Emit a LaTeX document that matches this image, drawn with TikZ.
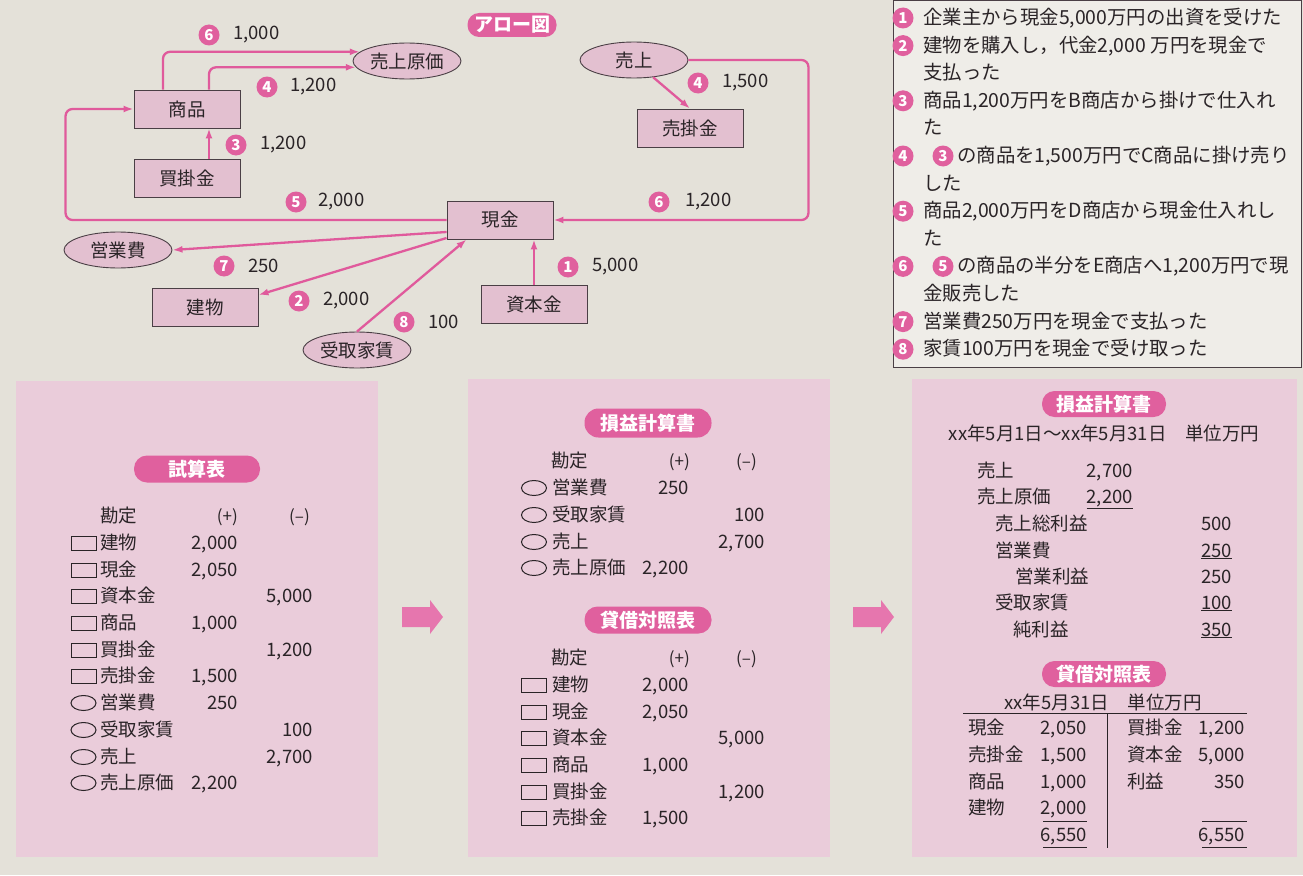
\documentclass[tikz,border=0pt]{standalone}
\usepackage{fontspec}
\setmainfont{Noto Sans CJK JP}
\usetikzlibrary{shapes.geometric,arrows.meta}
\definecolor{bgc}{HTML}{E4E1D9}
\definecolor{panelc}{HTML}{EACCDA}
\definecolor{boxc}{HTML}{E3C0D0}
\definecolor{flowc}{HTML}{E05A9C}
\definecolor{badgec}{HTML}{E0609E}
\definecolor{inkc}{HTML}{2A2427}
\definecolor{edgec}{HTML}{4A3F45}
\definecolor{blockc}{HTML}{E676AE}
\newcommand{\fsz}{\fontsize{18.5}{20}\selectfont}
\newcommand{\tbrow}[6]{%
  \node[#3] (#1s) at (\colS,#2) {};
  \node[txt,anchor=base west] (#1n) at (\colN,#2+6) {#4};
  \node[txt,anchor=base east] (#1p) at (\colP,#2+6) {#5};
  \node[txt,anchor=base east] (#1m) at (\colM,#2+6) {#6};
}
\begin{document}
\begin{tikzpicture}[x=1pt,y=-1pt,
  acct/.style={draw=edgec, fill=boxc, line width=0.9pt, minimum width=106pt, minimum height=38pt, inner sep=0pt, font=\fsz, text=inkc},
  acell/.style={ellipse, draw=edgec, fill=boxc, line width=0.9pt, minimum width=108pt, minimum height=36pt, inner sep=0pt, font=\fsz, text=inkc},
  flow/.style={draw=flowc, line width=2.3pt, -{Latex[length=10pt,width=7pt]}, rounded corners=7pt},
  numb/.style={circle, fill=badgec, text=white, inner sep=0pt, minimum size=21pt, font=\fontsize{15}{15}\selectfont\bfseries},
  val/.style={anchor=west, inner sep=0pt, font=\fsz, text=inkc},
  txt/.style={inner sep=0pt, font=\fsz, text=inkc},
  hdr/.style={inner sep=0pt, anchor=base east, font=\fontsize{17}{18}\selectfont, text=inkc},
  leg/.style={inner sep=0pt, anchor=base west, font=\fontsize{19.4}{20}\selectfont, text=inkc},
  pill/.style={fill=badgec, text=white, inner sep=0pt, font=\fontsize{19}{20}\selectfont\bfseries},
  symr/.style={draw=inkc, line width=1pt, minimum width=25pt, minimum height=14pt, inner sep=0pt},
  syme/.style={ellipse, draw=inkc, line width=1pt, minimum width=25pt, minimum height=15pt, inner sep=0pt},
  block/.style={fill=blockc},
  rule/.style={draw=inkc, line width=0.9pt}
]
\useasboundingbox (0,0) rectangle (1303,875);
\fill[bgc] (0,0) rectangle (1303,875);

% ---------------- arrow diagram ----------------
\node[pill, minimum width=89pt, minimum height=24pt, rounded corners=11.5pt] (arrowtitle) at (512,25) {アロー図};

\node[acct] (shohin) at (187,109) {商品};
\node[acct] (kaikake) at (187,178) {買掛金};
\node[acell] (genka) at (407,61) {売上原価};
\node[acell] (eigyohi) at (118,250) {営業費};
\node[acct] (tatemono) at (205,307) {建物};
\node[acell] (yachin) at (357,350) {受取家賃};
\node[acct] (genkin) at (500,220) {現金};
\node[acct] (shihon) at (534,304) {資本金};
\node[acell] (uriage) at (634,60) {売上};
\node[acct] (urikake) at (690,128) {売掛金};

\draw[flow] ([xshift=-24pt]shohin.north) |- (genka.169);
\draw[flow] ([xshift=22pt]shohin.north) |- (genka.187);
\draw[flow] ([xshift=22pt]kaikake.north) -- ([xshift=22pt]shohin.south);
\draw[flow] (genkin.west) -- ++(-381,0) |- (shohin.west);
\draw[flow] ([yshift=-12pt]genkin.west) -- (eigyohi.east);
\draw[flow] ([yshift=-18pt]genkin.west) -- ([yshift=12pt]tatemono.east);
\draw[flow] (yachin.north) -- ([xshift=20pt]genkin.south west);
\draw[flow] (shihon.north) -- (shihon.north |- genkin.south);
\draw[flow] (uriage.-42) -- (urikake.north);
\draw[flow] (uriage.east) -- ++(120,0) |- (genkin.east);

\node[numb] (b6a) at (209,35) {6};  \node[val] (v6a) at (233,35) {1,000};
\node[numb] (b4a) at (267,87) {4};  \node[val] (v4a) at (290,87) {1,200};
\node[numb] (b3a) at (236,145) {3}; \node[val] (v3a) at (260,145) {1,200};
\node[numb] (b5a) at (296,202) {5}; \node[val] (v5a) at (318,202) {2,000};
\node[numb] (b7a) at (224,266) {7}; \node[val] (v7a) at (248,266) {250};
\node[numb] (b2a) at (299,301) {2}; \node[val] (v2a) at (323,301) {2,000};
\node[numb] (b8a) at (404,322) {8}; \node[val] (v8a) at (428,322) {100};
\node[numb] (b4b) at (698,83) {4};  \node[val] (v4b) at (722,83) {1,500};
\node[numb] (b6b) at (659,202) {6}; \node[val] (v6b) at (685,202) {1,200};
\node[numb] (b1a) at (568,267) {1}; \node[val] (v1a) at (592,267) {5,000};

% ---------------- legend ----------------
\draw[draw=edgec, line width=1pt, fill=bgc!60!white] (893,0.6) rectangle (1301,367);
\node[numb] (l1) at (903,18) {1};      \node[leg] (l1t) at (923,24.5) {企業主から現金5,000万円の出資を受けた};
\node[numb] (l2) at (903,45.6) {2};    \node[leg] (l2t) at (923,52.1) {建物を購入し，代金2,000 万円を現金で};
                                       \node[leg] (l2u) at (923,79.7) {支払った};
\node[numb] (l3) at (903,100.8) {3};   \node[leg] (l3t) at (923,107.3) {商品1,200万円をB商店から掛けで仕入れ};
                                       \node[leg] (l3u) at (923,134.9) {た};
\node[numb] (l4) at (903,156) {4};     \node[numb] (l4r) at (943,156) {3};
                                       \node[leg] (l4t) at (957,162.5) {の商品を1,500万円でC商品に掛け売り};
                                       \node[leg] (l4u) at (923,190.1) {した};
\node[numb] (l5) at (903,211.2) {5};   \node[leg] (l5t) at (923,217.7) {商品2,000万円をD商店から現金仕入れし};
                                       \node[leg] (l5u) at (923,245.3) {た};
\node[numb] (l6) at (903,266.4) {6};   \node[numb] (l6r) at (943,266.4) {5};
                                       \node[leg] (l6t) at (957,272.9) {の商品の半分をE商店へ1,200万円で現};
                                       \node[leg] (l6u) at (923,300.5) {金販売した};
\node[numb] (l7) at (903,321.6) {7};   \node[leg] (l7t) at (923,328.1) {営業費250万円を現金で支払った};
\node[numb] (l8) at (903,349.2) {8};   \node[leg] (l8t) at (923,355.7) {家賃100万円を現金で受け取った};

% ---------------- panels ----------------
\fill[panelc] (16,381) rectangle (378,857);
\fill[panelc] (468,379) rectangle (830,857);
\fill[panelc] (912,379) rectangle (1297,857);

\fill[block] (402,607) -- (430,607) -- (430,600) -- (443,617) -- (430,634) -- (430,627) -- (402,627) -- cycle;
\fill[block] (853,607) -- (881,607) -- (881,600) -- (894,617) -- (881,634) -- (881,627) -- (853,627) -- cycle;

% panel 1: trial balance
\node[pill, minimum width=126pt, minimum height=27pt, rounded corners=13pt] (p1title) at (197,469) {試算表};
\node[txt,anchor=base west] (p1h) at (100,522) {勘定};
\node[hdr] (p1hp) at (238,522) {(+)};
\node[hdr] (p1hm) at (310,522) {(–)};
\def\colS{83.5}\def\colN{100}\def\colP{238}\def\colM{313}
\tbrow{ra}{543}{symr}{建物}{2,000}{}
\tbrow{rb}{570}{symr}{現金}{2,050}{}
\tbrow{rc}{596}{symr}{資本金}{}{5,000}
\tbrow{rd}{623}{symr}{商品}{1,000}{}
\tbrow{re}{650}{symr}{買掛金}{}{1,200}
\tbrow{rf}{676}{symr}{売掛金}{1,500}{}
\tbrow{rg}{703}{syme}{営業費}{250}{}
\tbrow{rh}{730}{syme}{受取家賃}{}{100}
\tbrow{ri}{757}{syme}{売上}{}{2,700}
\tbrow{rj}{783}{syme}{売上原価}{2,200}{}

% panel 2
\node[pill, minimum width=127pt, minimum height=29pt, rounded corners=14pt] (p2title) at (648,423) {損益計算書};
\node[txt,anchor=base west] (p2h) at (551,467) {勘定};
\node[hdr] (p2hp) at (690,467) {(+)};
\node[hdr] (p2hm) at (757,467) {(–)};
\def\colS{534}\def\colN{552}\def\colP{689}\def\colM{765}
\tbrow{sa}{488}{syme}{営業費}{250}{}
\tbrow{sb}{515}{syme}{受取家賃}{}{100}
\tbrow{sc}{542}{syme}{売上}{}{2,700}
\tbrow{sd}{568}{syme}{売上原価}{2,200}{}
\node[pill, minimum width=127pt, minimum height=27pt, rounded corners=13pt] (p2title2) at (648,620) {貸借対照表};
\node[txt,anchor=base west] (p2h2) at (551,664) {勘定};
\node[hdr] (p2hp2) at (690,664) {(+)};
\node[hdr] (p2hm2) at (757,664) {(–)};
\tbrow{ta}{685}{symr}{建物}{2,000}{}
\tbrow{tb}{712}{symr}{現金}{2,050}{}
\tbrow{tc}{738}{symr}{資本金}{}{5,000}
\tbrow{td}{765}{symr}{商品}{1,000}{}
\tbrow{te}{792}{symr}{買掛金}{}{1,200}
\tbrow{tf}{818}{symr}{売掛金}{1,500}{}

% panel 3
\node[pill, minimum width=124pt, minimum height=26pt, rounded corners=12.5pt] (p3title) at (1104,404) {損益計算書};
\node[txt] (p3date) at (1104,433) {xx年5月1日～xx年5月31日\hspace{1em}単位万円};
\node[txt,anchor=base west] (q1n) at (977,477) {売上};     \node[txt,anchor=base east] (q1v) at (1133,477) {2,700};
\node[txt,anchor=base west] (q2n) at (977,503) {売上原価}; \node[txt,anchor=base east] (q2v) at (1133,503) {\underline{2,200}};
\node[txt,anchor=base west] (q3n) at (995,530) {売上総利益}; \node[txt,anchor=base east] (q3v) at (1232,530) {500};
\node[txt,anchor=base west] (q4n) at (995,557) {営業費};   \node[txt,anchor=base east] (q4v) at (1232,557) {\underline{250}};
\node[txt,anchor=base west] (q5n) at (1015,583) {営業利益}; \node[txt,anchor=base east] (q5v) at (1232,583) {250};
\node[txt,anchor=base west] (q6n) at (995,609) {受取家賃}; \node[txt,anchor=base east] (q6v) at (1232,609) {\underline{100}};
\node[txt,anchor=base west] (q7n) at (1013,636) {純利益};  \node[txt,anchor=base east] (q7v) at (1232,636) {\underline{350}};

\node[pill, minimum width=124pt, minimum height=26pt, rounded corners=12.5pt] (p3title2) at (1104,674) {貸借対照表};
\node[txt] (p3date2) at (1103,702) {xx年5月31日\hspace{1em}単位万円};
\draw[rule] (963,713) -- (1247,713);
\draw[rule] (1107,713) -- (1107,848);
\node[txt,anchor=base west] (w1n) at (968,734) {現金};   \node[txt,anchor=base east] (w1v) at (1087,734) {2,050};
\node[txt,anchor=base west] (w2n) at (968,761) {売掛金}; \node[txt,anchor=base east] (w2v) at (1087,761) {1,500};
\node[txt,anchor=base west] (w3n) at (968,788) {商品};   \node[txt,anchor=base east] (w3v) at (1087,788) {1,000};
\node[txt,anchor=base west] (w4n) at (968,814) {建物};   \node[txt,anchor=base east] (w4v) at (1087,814) {2,000};
\node[txt,anchor=base east] (w5v) at (1087,841) {6,550};
\node[txt,anchor=base west] (x1n) at (1127,734) {買掛金}; \node[txt,anchor=base east] (x1v) at (1245,734) {1,200};
\node[txt,anchor=base west] (x2n) at (1127,761) {資本金}; \node[txt,anchor=base east] (x2v) at (1245,761) {5,000};
\node[txt,anchor=base west] (x3n) at (1127,788) {利益};   \node[txt,anchor=base east] (x3v) at (1245,788) {350};
\node[txt,anchor=base east] (x5v) at (1245,841) {6,550};
\draw[rule] (1043,821) -- (1087,821);
\draw[rule] (1043,847) -- (1087,847);
\draw[rule] (1202,821) -- (1247,821);
\draw[rule] (1202,847) -- (1247,847);
\end{tikzpicture}
\end{document}
